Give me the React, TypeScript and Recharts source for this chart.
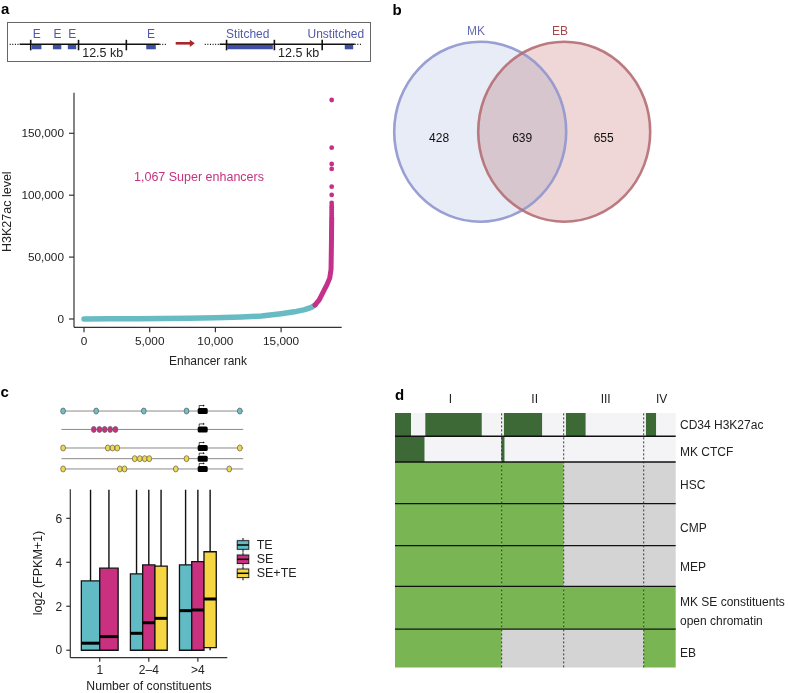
import React from 'react';
import { ComposedChart, Scatter, Line, XAxis, YAxis, ReferenceArea, ReferenceLine } from 'recharts';

const FONT = '"Liberation Sans", Arial, Helvetica, sans-serif';
const INK = '#222';

// ---------- Panel a: stitching schematic (positions in kb) ----------
const schemTicksLeft = [6.2, 18.7, 31.2];
const schemTicksRight = [57.4, 69.9, 82.4];
const enhancerBlocks = [[6.5, 9.0], [12.0, 14.2], [15.9, 18.1], [36.4, 38.9]];
const stitchedBlocks = [[57.6, 69.5], [88.3, 90.5]];
const enhancerLabelKb = [7.7, 13.1, 17.0, 37.6];

// ---------- Panel a: hockey-stick plot ----------
const tealRank = [0, 2000, 4000, 6000, 8000, 10000, 12000, 13500, 15000, 16000, 16800, 17300, 17580];
const tealLevel = [0, 150, 300, 500, 700, 1000, 1600, 2400, 4300, 5800, 7600, 9400, 11300];
const seRank = [17580, 17900, 18210, 18500, 18700, 18800, 18830, 18850];
const seLevel = [11300, 15500, 22000, 28000, 33000, 40000, 60000, 82000];
const seTopLevel = [176900, 138400, 125200, 121200, 106900, 100200, 93700, 91500, 90000, 88500, 86700, 85000, 83500];
const seTopRank = 18850;
const rankTicks = [0, 5000, 10000, 15000];
const levelTicks = [0, 50000, 100000, 150000];

// ---------- Panel b: Venn ----------
const vennSets = ['MK', 'EB'];
const vennCenterX = [-0.5, 0.5];
const vennRegionLabels = ['428', '639', '655'];
const vennRegionX = [-0.99, 0.0, 0.97];

// ---------- Panel c: schematic ----------
const trackType = ['TE', 'SE', 'SE+TE', 'SE+TE', 'SE+TE'];
const trackY = [0, 1, 2.01, 2.59, 3.15];
const trackEnhancers = [
  [0.9, 19.1, 45.3, 68.8, 98.1],
  [17.8, 20.9, 23.8, 26.8, 29.7],
  [0.9, 25.5, 28.1, 30.7, 98.1],
  [40.3, 43.1, 45.8, 48.3, 68.8],
  [0.9, 32.1, 34.7, 62.9, 92.3],
];
const genePos = 77.7;

// ---------- Panel c: box plot ----------
const groups = ['1', '2\u20134', '>4'];
const boxSeries = ['TE', 'SE', 'SE+TE'];
const boxColors = ['#61bbc5', '#c9307f', '#f6d642'];
const ovalColors = ['#6cc0c8', '#c9307f', '#f0d84a'];
// [lower whisker, q1, median, q3, upper whisker]
const teBox = [[0, 0, 0.32, 3.15, 7.3], [0, 0, 0.77, 3.47, 7.3], [0, 0, 1.8, 3.88, 7.3]];
const seBox = [[0, 0, 0.62, 3.73, 7.3], [0, 0, 1.25, 3.88, 7.3], [0, 0, 1.83, 4.03, 7.3]];
const seteBox = [null, [0, 0, 1.45, 3.83, 7.3], [0, 0.12, 2.33, 4.48, 7.3]];
const logTicks = [0, 2, 4, 6];

// ---------- Panel d: heatmap ----------
const dRows = ['CD34 H3K27ac', 'MK CTCF', 'HSC', 'CMP', 'MEP', 'MK SE constituents|open chromatin', 'EB'];
const dRowHeights = [0.56, 0.62, 1, 1.01, 0.98, 1.03, 0.92];
const dColumns = ['I', 'II', 'III', 'IV'];
const dColBounds = [0, 38.0, 60.1, 88.6, 100];
const cd34Peaks = [[0, 5.7], [10.8, 30.9], [38.8, 52.4], [60.9, 67.9], [89.4, 93.0]];
const ctcfPeaks = [[0, 10.5], [37.9, 39.0]];
const openHSC = [1, 1, 0, 0];
const openCMP = [1, 1, 0, 0];
const openMEP = [1, 1, 0, 0];
const openMKSE = [1, 1, 1, 1];
const openEB = [1, 0, 0, 1];

const fmt = (v: number) => String(v).replace(/\B(?=(\d{3})+(?!\d))/g, ',');
const tickStyle = { fill: INK, fontSize: 11.8, fontFamily: FONT };
const axisStroke = { stroke: '#333', strokeWidth: 1.2 };
const Nothing = () => <g />;

function Abs({ left, top, children }: any) {
  return <div style={{ position: 'absolute', left, top }}>{children}</div>;
}

// ---------- Panel a schematic ----------
const SCH_W = 363.4;
const SCH_KB = 95;
const sx = (kb: number) => 7.3 + (kb * SCH_W) / SCH_KB;
const LINE_Y = 22.3;

function PanelASchematic() {
  const solid = { stroke: '#111', strokeWidth: 1.5 };
  const dotted = { stroke: '#111', strokeWidth: 1.3, strokeDasharray: '1 1.6' };
  return (
    <>
      <div style={{ position: 'absolute', left: 7, top: 21.5, width: 362, height: 38.5, border: '1.3px solid #666' }} />
      <Abs left={7.3} top={22}>
        <ComposedChart width={SCH_W} height={40} margin={{ top: 0, right: 0, left: 0, bottom: 0 }}>
          <XAxis type="number" dataKey="x" domain={[0, SCH_KB]} hide allowDataOverflow />
          <YAxis type="number" dataKey="y" domain={[0, 40]} hide reversed allowDataOverflow />
          <ReferenceLine segment={[{ x: 0.7, y: LINE_Y }, { x: 3.3, y: LINE_Y }]} {...dotted} />
          <ReferenceLine segment={[{ x: 3.3, y: LINE_Y }, { x: 39.9, y: LINE_Y }]} {...solid} />
          <ReferenceLine segment={[{ x: 39.9, y: LINE_Y }, { x: 41.6, y: LINE_Y }]} {...dotted} />
          <ReferenceLine segment={[{ x: 51.7, y: LINE_Y }, { x: 55.6, y: LINE_Y }]} {...dotted} />
          <ReferenceLine segment={[{ x: 55.6, y: LINE_Y }, { x: 90.9, y: LINE_Y }]} {...solid} />
          <ReferenceLine segment={[{ x: 90.9, y: LINE_Y }, { x: 92.8, y: LINE_Y }]} {...dotted} />
          {enhancerBlocks.concat(stitchedBlocks).map((b, i) => (
            <ReferenceArea key={'b' + i} x1={b[0]} x2={b[1]} y1={LINE_Y} y2={LINE_Y + 5} fill="#3e50a5" fillOpacity={1} stroke="none" />
          ))}
          {schemTicksLeft.concat(schemTicksRight).map((t, i) => (
            <ReferenceLine key={'t' + i} segment={[{ x: t, y: LINE_Y - 4.5 }, { x: t, y: LINE_Y + 6 }]} stroke="#111" strokeWidth={1.6} />
          ))}
          <ReferenceLine segment={[{ x: 44.1, y: 21.3 }, { x: 48.0, y: 21.3 }]} stroke="#a8282a" strokeWidth={2.6} />
          <Scatter
            data={[{ x: 49.1, y: 21.3 }]}
            isAnimationActive={false}
            shape={(p: any) => (
              <path d={`M${p.cx},${p.cy} L${p.cx - 5},${p.cy - 3.6} L${p.cx - 5},${p.cy + 3.6} Z`} fill="#a8282a" />
            )}
          />
        </ComposedChart>
      </Abs>
    </>
  );
}

// ---------- Panel a scatter ----------
function PanelAScatter() {
  const tealData = tealRank.map((x, i) => ({ x, y: tealLevel[i] }));
  const seData = seRank.map((x, i) => ({ x, y: seLevel[i] }));
  const seTopData = seTopLevel.map((y) => ({ x: seTopRank, y }));
  return (
    <Abs left={0} top={85}>
      <ComposedChart width={350} height={282.3} margin={{ top: 7.7, right: 8.3, left: 14, bottom: 0 }}>
        <XAxis
          type="number"
          dataKey="x"
          domain={[-761, 19612]}
          allowDataOverflow
          ticks={rankTicks}
          tickFormatter={fmt}
          height={40}
          tickSize={5}
          tickMargin={4}
          tick={tickStyle}
          axisLine={axisStroke}
          tickLine={axisStroke}
        />
        <YAxis
          type="number"
          dataKey="y"
          domain={[-6704, 182795]}
          allowDataOverflow
          ticks={levelTicks}
          tickFormatter={fmt}
          width={60}
          tickSize={5}
          tickMargin={5}
          tick={tickStyle}
          axisLine={axisStroke}
          tickLine={axisStroke}
        />
        <Line data={tealData} dataKey="y" type="linear" stroke="#68bbc3" strokeWidth={5.5} strokeLinecap="round" strokeLinejoin="round" dot={false} isAnimationActive={false} />
        <Line data={seData} dataKey="y" type="linear" stroke="#c4308a" strokeWidth={5} strokeLinecap="round" strokeLinejoin="round" dot={false} isAnimationActive={false} />
        <Scatter data={seTopData} isAnimationActive={false} shape={(p: any) => <circle cx={p.cx} cy={p.cy} r={2.4} fill="#c4308a" />} />
      </ComposedChart>
    </Abs>
  );
}

// ---------- Panel b Venn ----------
const VENN_UNIT = 84;
const VENN_RX = 86;
const VENN_RY = 90;
const vennFill = ['#e7ecf6', '#efd6d7'];
const vennStroke = ['#8f96ce', '#b46e73'];

function PanelB() {
  const circles = vennSets.map((name, i) => ({ x: vennCenterX[i], y: 0, name, i }));
  const regions = vennRegionLabels.map((label, i) => ({ x: vennRegionX[i], y: -0.079, label }));
  return (
    <Abs left={370} top={0}>
      <ComposedChart width={290} height={240} margin={{ top: 0, right: 0, left: 0, bottom: 0 }}>
        <XAxis type="number" dataKey="x" domain={[-1.812, -1.812 + 290 / VENN_UNIT]} hide allowDataOverflow />
        <YAxis type="number" dataKey="y" domain={[1.568 - 240 / VENN_UNIT, 1.568]} hide allowDataOverflow />
        <Scatter
          data={circles}
          isAnimationActive={false}
          shape={(p: any) => (
            <ellipse cx={p.cx} cy={p.cy} rx={VENN_RX} ry={VENN_RY} fill={vennFill[p.payload.i]} style={{ mixBlendMode: 'multiply' }} />
          )}
        />
        <Scatter
          data={circles}
          isAnimationActive={false}
          shape={(p: any) => (
            <ellipse cx={p.cx} cy={p.cy} rx={VENN_RX} ry={VENN_RY} fill="none" stroke={vennStroke[p.payload.i]} strokeWidth={2.6} strokeOpacity={0.9} />
          )}
        />
        <Scatter
          data={regions}
          isAnimationActive={false}
          shape={(p: any) => (
            <text x={p.cx} y={p.cy} textAnchor="middle" dominantBaseline="central" fontSize={12} fontFamily={FONT} fill="#111">
              {p.payload.label}
            </text>
          )}
        />
      </ComposedChart>
    </Abs>
  );
}

// ---------- Panel c schematic ----------
function PanelCSchematic() {
  const ovals: any[] = [];
  trackEnhancers.forEach((arr, ti) => {
    const ci = boxSeries.indexOf(trackType[ti]);
    arr.forEach((x) => ovals.push({ x, y: trackY[ti], ci }));
  });
  const genes = trackY.map((y) => ({ x: genePos, y }));
  return (
    <Abs left={55.5} top={400}>
      <ComposedChart width={192.7} height={80} margin={{ top: 0, right: 0, left: 0, bottom: 0 }}>
        <XAxis type="number" dataKey="x" domain={[-3, 103]} hide allowDataOverflow />
        <YAxis type="number" dataKey="y" domain={[-0.6, 3.75]} hide reversed allowDataOverflow />
        {trackY.map((y, i) => (
          <Scatter
            key={'l' + i}
            data={[{ x: 0, y }, { x: 100, y }]}
            isAnimationActive={false}
            line={{ stroke: '#8a8a8a', strokeWidth: 1 }}
            shape={Nothing}
          />
        ))}
        <Scatter
          data={genes}
          isAnimationActive={false}
          shape={(p: any) => (
            <g>
              <rect x={p.cx - 5} y={p.cy - 3} width={10} height={6} rx={1.5} fill="#000" />
              <path d={`M${p.cx - 3.5},${p.cy - 3} L${p.cx - 3.5},${p.cy - 5.5} L${p.cx + 1},${p.cy - 5.5}`} stroke="#000" strokeWidth={0.7} fill="none" />
              <path d={`M${p.cx + 2},${p.cy - 5.5} L${p.cx + 0.5},${p.cy - 6.6} L${p.cx + 0.5},${p.cy - 4.4} Z`} fill="#000" />
            </g>
          )}
        />
        <Scatter
          data={ovals}
          isAnimationActive={false}
          shape={(p: any) => (
            <ellipse cx={p.cx} cy={p.cy} rx={2.4} ry={3} fill={ovalColors[p.payload.ci]} stroke="#5a5a5a" strokeWidth={0.7} />
          )}
        />
      </ComposedChart>
    </Abs>
  );
}

// ---------- Panel c box plot ----------
const BOX_W = 0.75;
function buildBoxes() {
  const stats = [teBox, seBox, seteBox];
  const out: any[] = [];
  groups.forEach((g, gi) => {
    const present = boxSeries.map((s, si) => stats[si][gi]).filter((s) => s);
    const w = BOX_W / present.length;
    let k = 0;
    boxSeries.forEach((s, si) => {
      const st = stats[si][gi];
      if (!st) return;
      const x1 = gi + 1 - BOX_W / 2 + k * w;
      k += 1;
      out.push({ x1, x2: x1 + w, xc: x1 + w / 2, lo: st[0], q1: st[1], med: st[2], q3: st[3], hi: st[4], color: boxColors[si] });
    });
  });
  return out;
}

function PanelCBox() {
  const boxes = buildBoxes();
  const pts = boxes.map((b) => ({ x: b.xc, y: b.med }));
  return (
    <Abs left={0} top={480}>
      <ComposedChart width={240} height={198} margin={{ top: 9.3, right: 12.7, left: 40.3, bottom: 0 }}>
        <XAxis
          type="number"
          dataKey="x"
          domain={[0.4, 3.6]}
          allowDataOverflow
          ticks={[1, 2, 3]}
          tickFormatter={(v: number) => groups[v - 1]}
          height={20.3}
          tickSize={4}
          tickMargin={4}
          tick={{ ...tickStyle, fontSize: 12 }}
          axisLine={axisStroke}
          tickLine={axisStroke}
        />
        <YAxis
          type="number"
          dataKey="y"
          domain={[-0.34, 7.32]}
          allowDataOverflow
          ticks={logTicks}
          width={30}
          tickSize={4}
          tickMargin={4}
          tick={{ ...tickStyle, fontSize: 12 }}
          axisLine={axisStroke}
          tickLine={axisStroke}
        />
        {boxes.map((b, i) => (
          <ReferenceLine key={'wu' + i} segment={[{ x: b.xc, y: b.q3 }, { x: b.xc, y: b.hi }]} stroke="#111" strokeWidth={1.4} />
        ))}
        {boxes
          .filter((b) => b.q1 > b.lo)
          .map((b, i) => (
            <ReferenceLine key={'wl' + i} segment={[{ x: b.xc, y: b.lo }, { x: b.xc, y: b.q1 }]} stroke="#111" strokeWidth={1.4} />
          ))}
        {boxes.map((b, i) => (
          <ReferenceArea key={'bx' + i} x1={b.x1} x2={b.x2} y1={b.q1} y2={b.q3} fill={b.color} fillOpacity={1} stroke="#111" strokeWidth={1.3} />
        ))}
        {boxes.map((b, i) => (
          <ReferenceLine key={'md' + i} segment={[{ x: b.x1, y: b.med }, { x: b.x2, y: b.med }]} stroke="#000" strokeWidth={3} />
        ))}
        <Scatter data={pts} isAnimationActive={false} shape={Nothing} />
      </ComposedChart>
    </Abs>
  );
}

// ---------- Panel d heatmap ----------
const D_LEFT = 395;
const D_TOP = 413.3;
const D_W = 280.7;
const D_H = 254.4;

function PanelD() {
  const tops: number[] = [];
  let acc = 0;
  dRowHeights.forEach((h) => {
    tops.push(acc);
    acc += h;
  });
  const total = acc;
  const states = [null, null, openHSC, openCMP, openMEP, openMKSE, openEB];
  const peaks = [cd34Peaks, ctcfPeaks];
  const cells: any[] = [];
  dRows.forEach((r, ri) => {
    const st = states[ri];
    if (st) {
      st.forEach((v, ci) =>
        cells.push({ x1: dColBounds[ci], x2: dColBounds[ci + 1], y1: tops[ri], y2: tops[ri] + dRowHeights[ri], fill: v ? '#79b553' : '#d4d4d4' })
      );
    } else {
      cells.push({ x1: 0, x2: 100, y1: tops[ri], y2: tops[ri] + dRowHeights[ri], fill: '#f4f4f6' });
      peaks[ri].forEach((p) => cells.push({ x1: p[0], x2: p[1], y1: tops[ri], y2: tops[ri] + dRowHeights[ri], fill: '#3d6936' }));
    }
  });
  const centers = cells.map((c) => ({ x: (c.x1 + c.x2) / 2, y: (c.y1 + c.y2) / 2 }));
  return (
    <Abs left={D_LEFT} top={D_TOP}>
      <ComposedChart width={D_W} height={D_H} margin={{ top: 0, right: 0, left: 0, bottom: 0 }}>
        <XAxis type="number" dataKey="x" domain={[0, 100]} hide allowDataOverflow />
        <YAxis type="number" dataKey="y" domain={[0, total]} hide reversed allowDataOverflow />
        {cells.map((c, i) => (
          <ReferenceArea key={'c' + i} x1={c.x1} x2={c.x2} y1={c.y1} y2={c.y2} fill={c.fill} fillOpacity={1} stroke="none" />
        ))}
        {tops.slice(1).map((t, i) => (
          <ReferenceLine key={'h' + i} y={t} stroke="#111" strokeWidth={1.4} />
        ))}
        {dColBounds.slice(1, -1).map((b, i) => (
          <ReferenceLine key={'v' + i} x={b} stroke="#333" strokeWidth={1} strokeDasharray="2 2" />
        ))}
        <Scatter data={centers} isAnimationActive={false} shape={Nothing} />
      </ComposedChart>
    </Abs>
  );
}

// ---------- Text overlay ----------
function Overlay() {
  const t = { fontFamily: FONT, fill: INK };
  const letter = { fontFamily: FONT, fill: '#000', fontWeight: 700, fontSize: 15 };
  const dTops: number[] = [];
  let acc = 0;
  dRowHeights.forEach((h) => {
    dTops.push(acc);
    acc += h;
  });
  const rowPx = D_H / acc;
  const labelOffsets = [0, 2.8, 2, 3.3, 1, 0, 4.2];
  const colX = (ci: number) => D_LEFT + ((dColBounds[ci] + dColBounds[ci + 1]) / 2) * (D_W / 100) + 2;
  const legendY = [545, 559.3, 573.3];
  return (
    <svg width={788} height={693} style={{ position: 'absolute', left: 0, top: 0, pointerEvents: 'none' }}>
      <text x={1} y={14} {...letter}>a</text>
      <text x={392.5} y={15} {...letter}>b</text>
      <text x={0.5} y={396.5} {...letter}>c</text>
      <text x={395} y={400} {...letter}>d</text>

      {/* schematic a */}
      {enhancerLabelKb.map((kb, i) => (
        <text key={'e' + i} x={sx(kb)} y={33.5} textAnchor="middle" dominantBaseline="central" fontSize={12} fontFamily={FONT} fill="#4f58aa">E</text>
      ))}
      <text x={sx(57.2)} y={33.5} dominantBaseline="central" fontSize={12} fontFamily={FONT} fill="#4f58aa">Stitched</text>
      <text x={sx(93.3)} y={33.5} textAnchor="end" dominantBaseline="central" fontSize={12} fontFamily={FONT} fill="#4f58aa">Unstitched</text>
      <text x={sx((schemTicksLeft[1] + schemTicksLeft[2]) / 2)} y={52.5} textAnchor="middle" dominantBaseline="central" fontSize={12.5} {...t}>12.5 kb</text>
      <text x={sx((schemTicksRight[1] + schemTicksRight[2]) / 2)} y={52.5} textAnchor="middle" dominantBaseline="central" fontSize={12.5} {...t}>12.5 kb</text>

      {/* scatter a */}
      <text x={7} y={211.7} transform="rotate(-90 7 211.7)" textAnchor="middle" dominantBaseline="central" fontSize={12.5} {...t}>H3K27ac level</text>
      <text x={208} y={361} textAnchor="middle" dominantBaseline="central" fontSize={12} {...t}>Enhancer rank</text>
      <text x={199} y={176.7} textAnchor="middle" dominantBaseline="central" fontSize={12.5} fontFamily={FONT} fill="#c4337f">1,067 Super enhancers</text>

      {/* venn b */}
      <text x={476} y={31} textAnchor="middle" dominantBaseline="central" fontSize={12} fontFamily={FONT} fill="#676db5">{vennSets[0]}</text>
      <text x={560} y={31} textAnchor="middle" dominantBaseline="central" fontSize={12} fontFamily={FONT} fill="#a5474b">{vennSets[1]}</text>

      {/* box plot c */}
      <text x={38} y={573} transform="rotate(-90 38 573)" textAnchor="middle" dominantBaseline="central" fontSize={12.5} {...t}>log2 (FPKM+1)</text>
      <text x={149} y={685.5} textAnchor="middle" dominantBaseline="central" fontSize={12.2} {...t}>Number of constituents</text>
      {boxSeries.map((s, i) => (
        <g key={'lg' + i}>
          <rect x={236} y={legendY[i] - 7} width={14} height={14} fill="#f2f2f2" stroke="#fff" strokeWidth={0.8} />
          <line x1={243} x2={243} y1={legendY[i] - 7} y2={legendY[i] + 7} stroke="#111" strokeWidth={1} />
          <rect x={237.2} y={legendY[i] - 4.3} width={11.6} height={8.6} fill={boxColors[i]} stroke="#111" strokeWidth={0.9} />
          <line x1={237.2} x2={248.8} y1={legendY[i]} y2={legendY[i]} stroke="#000" strokeWidth={1.5} />
          <text x={256.7} y={legendY[i]} dominantBaseline="central" fontSize={12.5} {...t}>{s}</text>
        </g>
      ))}

      {/* heatmap d */}
      {dColumns.map((c, i) => (
        <text key={'dc' + i} x={colX(i)} y={399} textAnchor="middle" dominantBaseline="central" fontSize={12} {...t}>{c}</text>
      ))}
      {dRows.map((r, i) => {
        const cy = D_TOP + (dTops[i] + dRowHeights[i] / 2) * rowPx + labelOffsets[i];
        const parts = r.split('|');
        if (parts.length === 1)
          return (
            <text key={'dr' + i} x={680} y={cy} dominantBaseline="central" fontSize={12} {...t}>{r}</text>
          );
        return (
          <g key={'dr' + i}>
            <text x={680} y={601.7} dominantBaseline="central" fontSize={12} {...t}>{parts[0]}</text>
            <text x={680} y={620.7} dominantBaseline="central" fontSize={12} {...t}>{parts[1]}</text>
          </g>
        );
      })}
    </svg>
  );
}

export default function App() {
  return (
    <div style={{ position: 'absolute', left: 0, top: 0, width: 788, height: 693, background: '#fff', overflow: 'hidden', fontFamily: FONT }}>
      <PanelASchematic />
      <PanelAScatter />
      <PanelB />
      <PanelCSchematic />
      <PanelCBox />
      <PanelD />
      <Overlay />
    </div>
  );
}
